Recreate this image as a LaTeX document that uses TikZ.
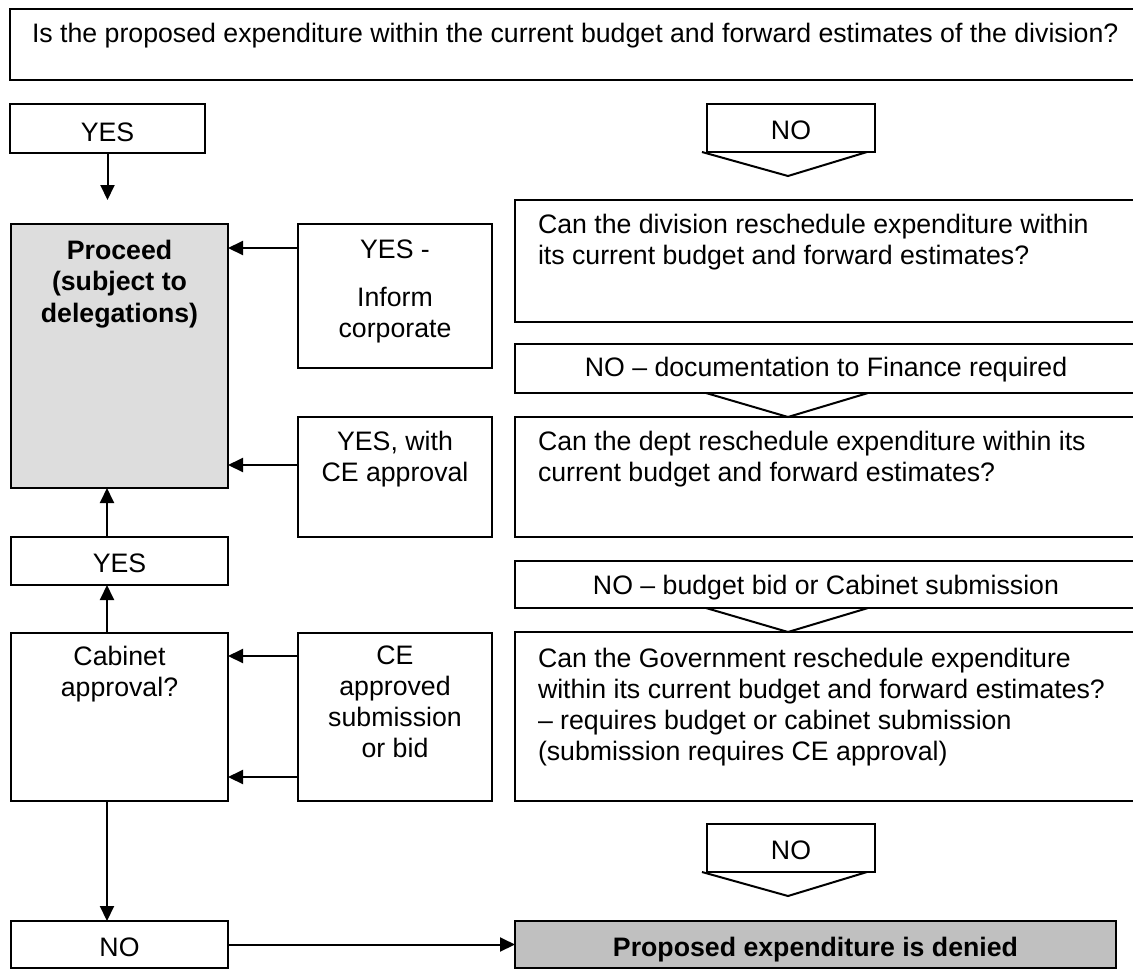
\documentclass[tikz,border=0pt]{standalone}
\usepackage{fontspec}
\setmainfont{Liberation Sans}
\usetikzlibrary{arrows.meta,calc}
\definecolor{procfill}{HTML}{DDDDDD}
\definecolor{denyfill}{HTML}{C0C0C0}
\begin{document}
\begin{tikzpicture}[x=1pt,y=-1pt,
  every node/.style={inner sep=0pt,outer sep=0pt},
  box/.style={draw,line width=2pt,anchor=north west},
  txt/.style={font=\fontsize{26.7}{31}\selectfont,align=center,anchor=north,
              execute at begin node=\strut},
  ltxt/.style={txt,align=left,anchor=north west},
  arr/.style={line width=2pt,-{Triangle[length=15pt,width=14pt]}},
  vee/.style={line width=2pt,line join=miter}]
\useasboundingbox (0,0) rectangle (1133,970);

% question at the top
\node[box,minimum width=1127,minimum height=71] (q0) at (10,9) {};
\node[ltxt] (q0t) at (32,21) {Is the proposed expenditure within the current budget and forward estimates of the division?};

% first answers
\node[box,minimum width=195,minimum height=49] (yesA) at (10,104) {};
\node[txt] (yesAt) at (107.5,120) {YES};
\node[box,minimum width=168,minimum height=48] (noA) at (707,104) {};
\node[txt] (noAt) at (791,118) {NO};
\draw[vee] ($(noA.south west)+(-5,0)$) -- ($(noA.south west)+(81,24)$) -- ($(noA.south east)+(-8,0)$);

% left column
\node[box,fill=procfill,minimum width=217,minimum height=264] (proc) at (11,224) {};
\node[txt,font=\fontsize{26.7}{31.5}\selectfont\bfseries] (proct) at (119.5,240) {Proceed\\(subject to\\delegations)};
\node[box,minimum width=217,minimum height=48] (yesB) at (11,537) {};
\node[txt] (yesBt) at (119.5,551) {YES};
\node[box,minimum width=217,minimum height=168] (cab) at (11,633) {};
\node[txt] (cabt) at (119.5,646) {Cabinet\\approval?};
\node[box,minimum width=217,minimum height=47] (noC) at (11,921) {};
\node[txt] (noCt) at (119.5,935) {NO};

% middle column
\node[box,minimum width=194,minimum height=144] (inform) at (298,224) {};
\node[txt] (informt) at (395,240) {YES -\\[17pt]Inform\\corporate};
\node[box,minimum width=194,minimum height=120] (yesce) at (298,417) {};
\node[txt] (yescet) at (395,431) {YES, with\\CE approval};
\node[box,minimum width=194,minimum height=168] (ceapp) at (298,633) {};
\node[txt] (ceappt) at (395,646) {CE\\approved\\submission\\or bid};

% right column
\node[box,minimum width=622,minimum height=122] (candiv) at (515,200) {};
\node[ltxt] (candivt) at (538,214) {Can the division reschedule expenditure within\\its current budget and forward estimates?};
\node[box,minimum width=622,minimum height=49] (nodoc) at (515,344) {};
\node[txt] (nodoct) at (826,355) {NO -- documentation to Finance required};
\draw[vee] ($(nodoc.south west)+(191,0)$) -- ($(nodoc.south west)+(273,24)$) -- ($(nodoc.south west)+(353,0)$);
\node[box,minimum width=622,minimum height=120] (candept) at (515,417) {};
\node[ltxt] (candeptt) at (538,431) {Can the dept reschedule expenditure within its\\current budget and forward estimates?};
\node[box,minimum width=622,minimum height=47] (nobud) at (515,561) {};
\node[txt] (nobudt) at (826,573) {NO -- budget bid or Cabinet submission};
\draw[vee] ($(nobud.south west)+(191,0)$) -- ($(nobud.south west)+(273,24)$) -- ($(nobud.south west)+(353,0)$);
\node[box,minimum width=622,minimum height=169] (govt) at (515,632) {};
\node[ltxt] (govtt) at (538,648) {Can the Government reschedule expenditure\\within its current budget and forward estimates?\\-- requires budget or cabinet submission\\(submission requires CE approval)};
\node[box,minimum width=168,minimum height=48] (noB) at (707,824) {};
\node[txt] (noBt) at (791,838) {NO};
\draw[vee] ($(noB.south west)+(-5,0)$) -- ($(noB.south west)+(81,24)$) -- ($(noB.south east)+(-8,0)$);
\node[box,fill=denyfill,minimum width=601,minimum height=47] (deny) at (515,921) {};
\node[txt,font=\fontsize{26.7}{31}\selectfont\bfseries] (denyt) at (815.5,935) {Proposed expenditure is denied};

% connector levels
\coordinate (colx) at (107,0);
\coordinate (stopA) at (107.5,200);
\coordinate (lv1) at (0,248);
\coordinate (lv2) at (0,465);
\coordinate (lv3) at (0,656);
\coordinate (lv4) at (0,777);

% connectors
\draw[arr] (yesA.south) -- (stopA);
\draw[arr] (inform.west |- lv1) -- (proc.east |- lv1);
\draw[arr] (yesce.west |- lv2) -- (proc.east |- lv2);
\draw[arr] (yesB.north -| colx) -- (proc.south -| colx);
\draw[arr] (cab.north -| colx) -- (yesB.south -| colx);
\draw[arr] (ceapp.west |- lv3) -- (cab.east |- lv3);
\draw[arr] (ceapp.west |- lv4) -- (cab.east |- lv4);
\draw[arr] (cab.south -| colx) -- (noC.north -| colx);
\draw[arr] (noC.east) -- (deny.west);
\end{tikzpicture}
\end{document}
